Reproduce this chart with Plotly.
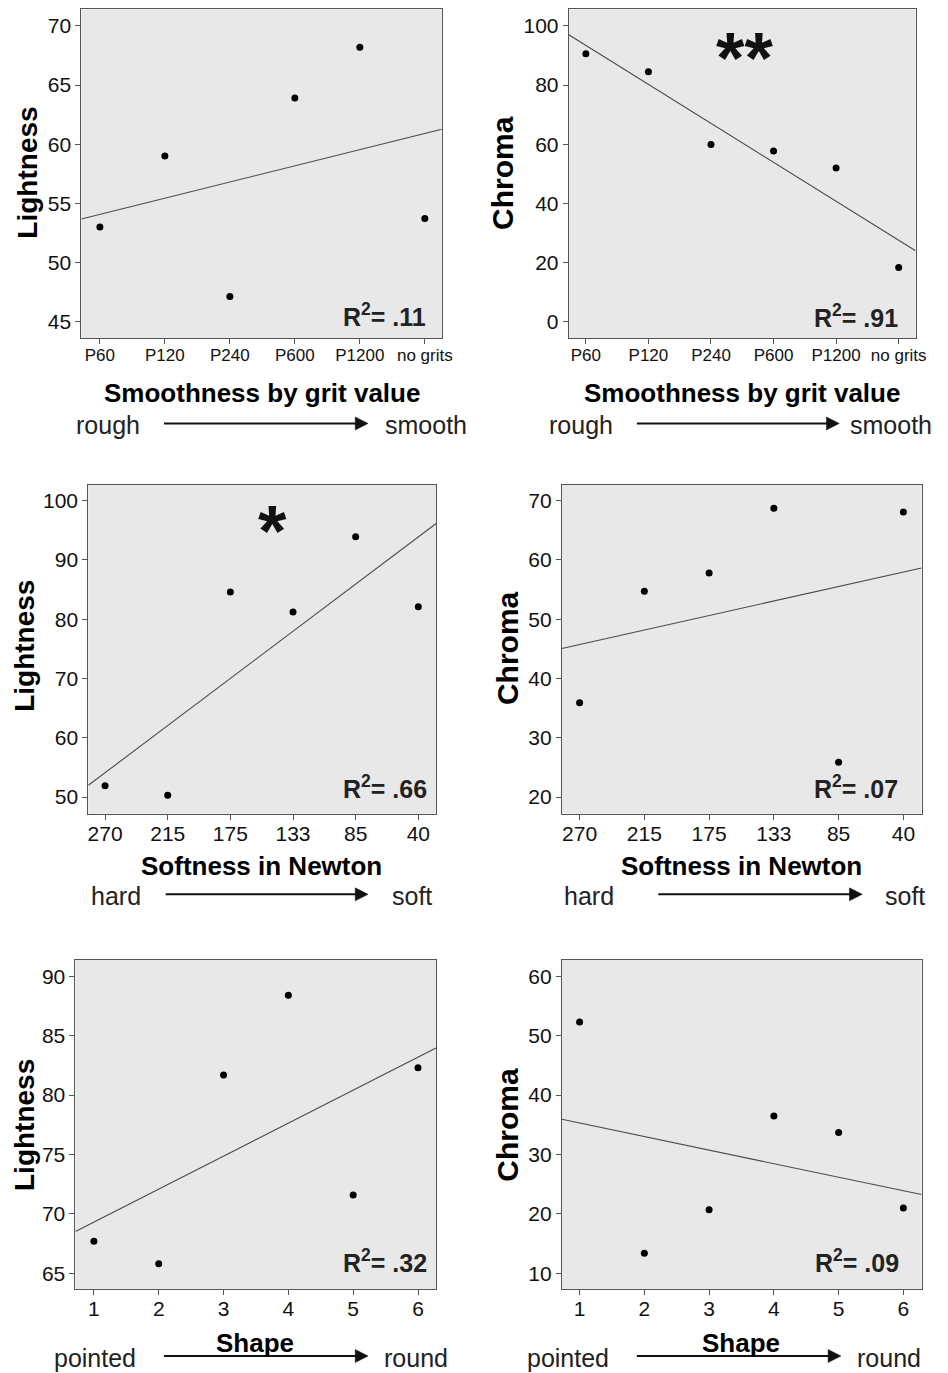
import numpy as np
import plotly.graph_objects as go

OFF = 8            # default page margin of the html body
W, H = 940, 1365   # figure size (placed at 8,8 in the 948x1373 window)

# ---- data ----
grit_labels = ["P60", "P120", "P240", "P600", "P1200", "no grits"]
newton_labels = ["270", "215", "175", "133", "85", "40"]
shape_labels = ["1", "2", "3", "4", "5", "6"]
positions = [1, 2, 3, 4, 5, 6]

grit_lightness = [53.0, 59.0, 47.1, 63.9, 68.2, 53.7]
grit_chroma = [90.6, 84.5, 59.9, 57.7, 51.9, 18.3]
soft_lightness = [51.9, 50.3, 84.6, 81.2, 93.9, 82.1]
soft_chroma = [35.9, 54.7, 57.8, 68.7, 25.9, 68.1]
shape_lightness = [67.7, 65.8, 81.7, 88.4, 71.6, 82.3]
shape_chroma = [52.3, 13.4, 20.7, 36.5, 33.7, 21.0]

r2_labels = [".11", ".91", ".66", ".07", ".32", ".09"]
significance = ["", "**", "*", "", "", ""]

y_titles = ["Lightness", "Chroma", "Lightness", "Chroma", "Lightness", "Chroma"]
x_titles = ["Smoothness by grit value", "Smoothness by grit value",
            "Softness in Newton", "Softness in Newton", "Shape", "Shape"]
low_labels = ["rough", "rough", "hard", "hard", "pointed", "pointed"]
high_labels = ["smooth", "smooth", "soft", "soft", "round", "round"]

# ---- layout (window pixel boxes) ----
boxes = [  # left, right, top, bottom
    (81.3, 446.3, 8.3, 337.7),
    (575.0, 926.3, 8.3, 337.7),
    (88.3, 441.0, 484.0, 813.3),
    (568.0, 932.3, 484.0, 813.3),
    (75.3, 441.0, 959.3, 1289.0),
    (568.0, 932.3, 959.3, 1289.0),
]
x_ranges = [(0.715, 6.26), (0.727, 6.27), (0.732, 6.29), (0.726, 6.28), (0.715, 6.285), (0.726, 6.28)]
y_ranges = [(43.56, 71.41), (-5.75, 105.65), (47.2, 102.7), (17.2, 72.7), (63.68, 91.4), (7.36, 62.8)]
y_ticks = [list(range(45, 71, 5)), list(range(0, 101, 20)), list(range(50, 101, 10)),
           list(range(20, 71, 10)), list(range(65, 91, 5)), list(range(10, 61, 10))]
tick_text = [grit_labels, grit_labels, newton_labels, newton_labels, shape_labels, shape_labels]
x_tick_size = [17, 17, 21, 21, 21, 21]
series = [grit_lightness, grit_chroma, soft_lightness, soft_chroma, shape_lightness, shape_chroma]

ytitle_pos = [(27, 172), (508, 172.5), (23.5, 645), (513, 648), (23, 1125), (513, 1125)]
ytitle_size = [28, 30, 28, 30, 28, 30]
xtitle_pos = [(264, 392), (750.5, 392), (264, 866), (750, 866), (257.5, 1343), (749, 1343)]
low_pos = [(108, 424), (587, 424), (116, 896), (595, 896), (95.5, 1358), (574.5, 1358)]
high_pos = [(430.5, 424), (901, 424), (416, 896), (916, 896), (420.5, 1358), (899, 1358)]
arrow_pos = [(165, 371.7, 422.7), (644, 849, 422.7), (166.7, 371.7, 894),
             (665.7, 872.3, 894), (165, 371.7, 1356), (644, 850.7, 1356)]
r2_pos = [(432, 314), (911, 315), (433, 786.7), (911, 786.7), (433, 1260.7), (912, 1260.7)]
sig_pos = [None, (753, 45), (275, 517.5), None, None, None]

FONT = "Liberation Sans, Arial, Helvetica, sans-serif"
TXT = "#111111"


def px(x):
    return (x - OFF) / W


def py(y):
    return 1 - (y - OFF) / H


fig = go.Figure()
annotations = []
shapes = []

for i in range(6):
    sfx = "" if i == 0 else str(i + 1)
    xa, ya = "x" + sfx, "y" + sfx
    L, R, T, B = boxes[i]
    xr, yr = x_ranges[i], y_ranges[i]

    # regression line fitted on the data
    slope, icpt = np.polyfit(positions, series[i], 1)
    xs = np.array(xr)
    fig.add_trace(go.Scatter(x=xs, y=slope * xs + icpt, mode="lines",
                             line=dict(color="#4a4a4a", width=1.1),
                             xaxis=xa, yaxis=ya, showlegend=False, hoverinfo="skip"))
    fig.add_trace(go.Scatter(x=positions, y=series[i], mode="markers",
                             marker=dict(color="black", size=7),
                             xaxis=xa, yaxis=ya, showlegend=False))

    fig.update_layout(**{
        "xaxis" + sfx: dict(domain=[px(L), px(R)], range=list(xr), anchor=ya,
                            tickmode="array", tickvals=positions, ticktext=tick_text[i],
                            ticks="outside", ticklen=5, tickcolor="#555", tickwidth=1,
                            ticklabelstandoff=-4,
                            showline=True, mirror=True, linecolor="#555", linewidth=1,
                            showgrid=False, zeroline=False,
                            tickfont=dict(family=FONT, size=x_tick_size[i], color=TXT)),
        "yaxis" + sfx: dict(domain=[py(B), py(T)], range=list(yr), anchor=xa,
                            tickmode="array", tickvals=y_ticks[i],
                            ticks="outside", ticklen=5, tickcolor="#555", tickwidth=1,
                            showline=True, mirror=True, linecolor="#555", linewidth=1,
                            showgrid=False, zeroline=False,
                            tickfont=dict(family=FONT, size=21, color=TXT)),
    })

    # y title
    annotations.append(dict(xref="paper", yref="paper", x=px(ytitle_pos[i][0]), y=py(ytitle_pos[i][1]),
                            text="<b>%s</b>" % y_titles[i], textangle=-90, showarrow=False,
                            xanchor="center", yanchor="middle",
                            font=dict(family=FONT, size=ytitle_size[i], color="black")))
    # x title
    annotations.append(dict(xref="paper", yref="paper", x=px(xtitle_pos[i][0]), y=py(xtitle_pos[i][1]),
                            text="<b>%s</b>" % x_titles[i], showarrow=False,
                            xanchor="center", yanchor="middle",
                            font=dict(family=FONT, size=26, color="black")))
    # low / high
    annotations.append(dict(xref="paper", yref="paper", x=px(low_pos[i][0]), y=py(low_pos[i][1]),
                            text=low_labels[i], showarrow=False, xanchor="center", yanchor="middle",
                            font=dict(family=FONT, size=25, color="#222")))
    annotations.append(dict(xref="paper", yref="paper", x=px(high_pos[i][0]), y=py(high_pos[i][1]),
                            text=high_labels[i], showarrow=False, xanchor="center", yanchor="middle",
                            font=dict(family=FONT, size=25, color="#222")))
    # arrow: shaft + filled head
    a0, a1, ay_ = arrow_pos[i]
    head_len, head_half = 13, 6.5
    shapes.append(dict(type="line", xref="paper", yref="paper",
                       x0=px(a0), x1=px(a1 - head_len + 1), y0=py(ay_), y1=py(ay_),
                       line=dict(color="#111", width=2)))
    shapes.append(dict(type="path", xref="paper", yref="paper",
                       path="M %f %f L %f %f L %f %f Z" % (
                           px(a1 - head_len), py(ay_ - head_half),
                           px(a1 - head_len), py(ay_ + head_half),
                           px(a1), py(ay_)),
                       fillcolor="#111", line=dict(color="#111", width=0.5)))
    # R^2
    annotations.append(dict(xref="paper", yref="paper", x=px(r2_pos[i][0]), y=py(r2_pos[i][1]),
                            text="<b>R<sup>2</sup>= %s</b>" % r2_labels[i], showarrow=False,
                            xanchor="right", yanchor="middle",
                            font=dict(family=FONT, size=25, color="#222")))
    # significance
    if significance[i]:
        annotations.append(dict(xref="paper", yref="paper", x=px(sig_pos[i][0]), y=py(sig_pos[i][1]),
                                text="<b>%s</b>" % significance[i], showarrow=False,
                                xanchor="center", yanchor="middle", yshift=-12,
                                font=dict(family=FONT, size=73, color="#111")))

fig.update_layout(width=W, height=H, margin=dict(l=0, r=0, t=0, b=0),
                  paper_bgcolor="white", plot_bgcolor="#e8e8e8",
                  annotations=annotations, shapes=shapes, showlegend=False)

fig.write_html("out.html")
